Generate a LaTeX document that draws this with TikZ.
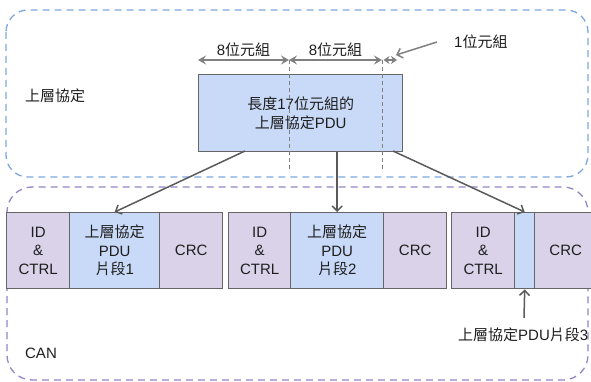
\documentclass[tikz,border=0pt]{standalone}
\usepackage{fontspec}
\setmainfont{Liberation Sans}
\newfontfamily\cjk{Noto Sans CJK TC}
\usetikzlibrary{arrows.meta}
\definecolor{segpurple}{HTML}{D9D2E9}
\definecolor{segblue}{HTML}{C9DAF8}
\definecolor{edgegray}{HTML}{666666}
\definecolor{dashblue}{HTML}{7FA6E0}
\definecolor{dashpurple}{HTML}{9584C6}
\definecolor{linegray}{HTML}{5A5A5A}
\definecolor{dimgray}{HTML}{808080}
\definecolor{txt}{HTML}{1E1E1E}
\tikzset{
  seg/.style={draw=edgegray,line width=1.4pt,inner sep=0pt,minimum height=76pt,anchor=north west,align=center,text=txt,font=\fontsize{15}{18.5}\selectfont},
  ctrlseg/.style={seg,fill=segpurple},
  dataseg/.style={seg,fill=segblue},
  region/.style={line width=1.3pt,dash pattern=on 7pt off 5pt},
  conn/.style={draw=linegray,line width=1.5pt,-{Straight Barb[length=5pt,width=10pt,line width=1.5pt]}},
  dimtip/.style={Stealth[length=8pt,width=9pt,inset=3pt]},
  dim/.style={draw=dimgray,line width=1.8pt,{Stealth[length=8pt,width=9pt,inset=3pt]}-{Stealth[length=8pt,width=9pt,inset=3pt]}},
  lbl/.style={text=txt,font=\fontsize{15}{18}\selectfont,inner sep=0pt},
  guide/.style={draw=gray,line width=1pt,dash pattern=on 4pt off 3pt}
}
\begin{document}
\begin{tikzpicture}[x=1pt,y=-1pt]
\useasboundingbox (0,0) rectangle (591,382);
% regions
\draw[region,draw=dashblue,rounded corners=22pt] (6,10) rectangle (588,177);
\draw[region,draw=dashpurple,rounded corners=25pt] (7,187) rectangle (588,380);
\node[lbl] (uplabel) at (55,96) {\cjk 上層協定};
\node[lbl] (canlabel) at (41,353) {CAN};
% upper PDU
\node[dataseg,minimum width=204pt,minimum height=77pt] (up) at (198,74) {\cjk 長度{\fontspec{Liberation Sans}17}位元組的\\\cjk 上層協定{\fontspec{Liberation Sans}PDU}};
% guides
\coordinate (d0) at (198,60);
\coordinate (d1) at (289,60);
\coordinate (d2) at (382,60);
\coordinate (d3) at (397,60);
\coordinate (g1) at (289,172);
\coordinate (g2) at (382,172);
\draw[guide] (d1) -- (g1);
\draw[guide] (d2) -- (g2);
\draw[dim] (d0) -- node[lbl,above=2pt] (l8a) {8\cjk 位元組} (d1);
\draw[dim] (d1) -- node[lbl,above=2pt] (l8b) {8\cjk 位元組} (d2);
\draw[draw=dimgray,line width=1.4pt,{Stealth[length=6pt,width=8pt,inset=2pt]}-{Stealth[length=6pt,width=8pt,inset=2pt]}] (d2) ++(1.5,0) coordinate (d2b) (d2b) -- (d3);
\node[lbl,anchor=west] (l1) at (454,42) {1\cjk 位元組};
\coordinate (l1tip) at (396,55);
\draw[draw=gray,line width=1.5pt,-{Straight Barb[length=5pt,width=10pt,line width=1.5pt]}] (l1.west) ++(-17,0) coordinate (l1s) (l1s) -- (l1tip);
% frames
\node[ctrlseg,minimum width=63pt] (idc1) at (6,212) {ID\\\&\\CTRL};
\node[dataseg,minimum width=90pt] (pdu1) at (69,212) {\cjk 上層協定\\PDU\\\cjk 片段{\fontspec{Liberation Sans}1}};
\node[ctrlseg,minimum width=63pt] (crc1) at (159,212) {CRC};
\node[ctrlseg,minimum width=62pt] (idc2) at (228,212) {ID\\\&\\CTRL};
\node[dataseg,minimum width=93pt] (pdu2) at (290,212) {\cjk 上層協定\\PDU\\\cjk 片段{\fontspec{Liberation Sans}2}};
\node[ctrlseg,minimum width=63pt] (crc2) at (383,212) {CRC};
\node[ctrlseg,minimum width=63pt] (idc3) at (451,212) {ID\\\&\\CTRL};
\node[dataseg,minimum width=20pt] (pdu3) at (514,212) {};
\node[ctrlseg,minimum width=62pt] (crc3) at (534,212) {CRC};
\node[lbl,anchor=west] (seg3) at (458,335) {\cjk 上層協定{\fontspec{Liberation Sans}PDU}片段{\fontspec{Liberation Sans}3}};
% connectors
\coordinate (s1) at (245,151);
\coordinate (s3) at (393,151);
\coordinate (s4) at (524,318);
\draw[conn] (s1) -- (pdu1.north);
\draw[conn] (up.south -| pdu2.north) -- (pdu2.north);
\draw[conn] (s3) -- (pdu3.north);
\draw[conn] (s4) -- (pdu3.south);
\end{tikzpicture}
\end{document}
